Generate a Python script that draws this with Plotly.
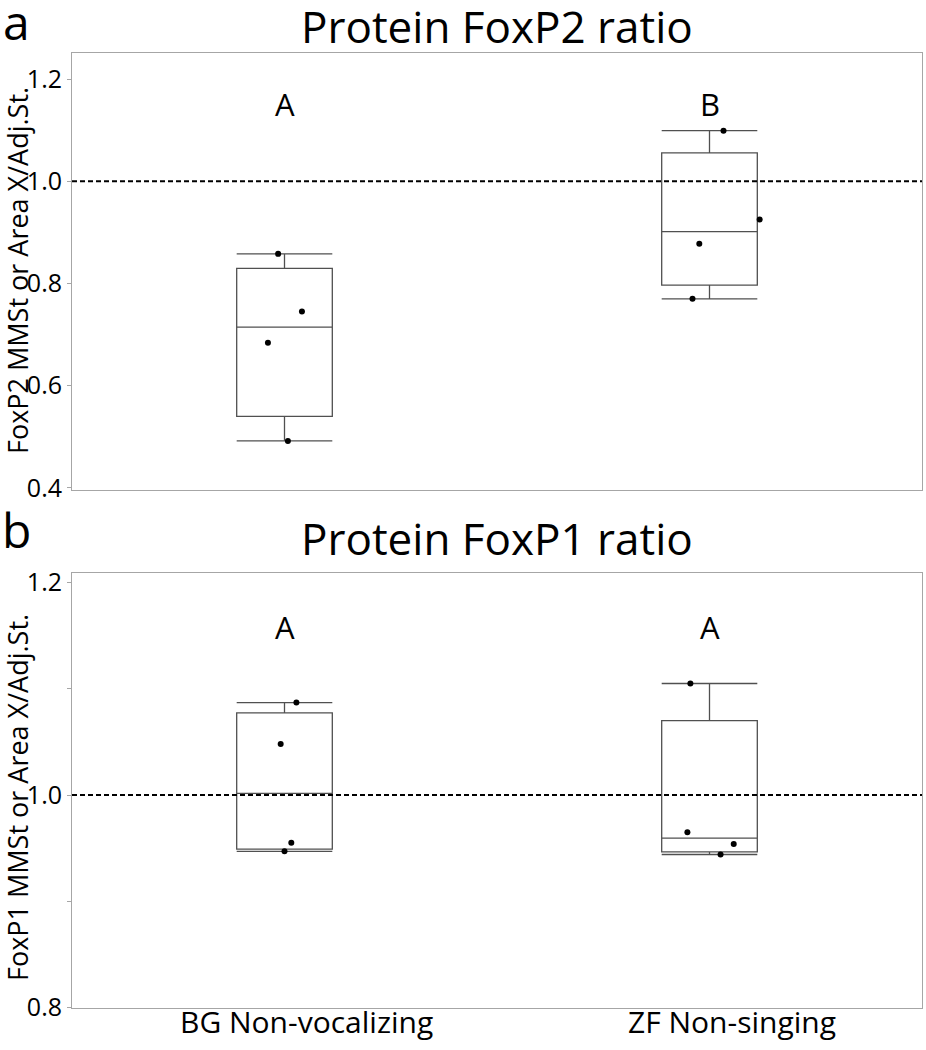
import numpy as np
import plotly.graph_objects as go

categories = ["BG Non-vocalizing", "ZF Non-singing"]

# Panel a: FoxP2 ratio (individual birds)
foxp2_bg = [0.858, 0.745, 0.684, 0.492]
foxp2_zf = [1.099, 0.925, 0.878, 0.770]
# Panel b: FoxP1 ratio
foxp1_bg = [1.087, 1.048, 0.955, 0.947]
foxp1_zf = [1.105, 0.965, 0.954, 0.944]

# horizontal jitter of the points (category units)
jit_a_bg = [-0.015, 0.041, -0.039, 0.008]
jit_a_zf = [0.033, 0.118, -0.024, -0.040]
jit_b_bg = [0.028, -0.009, 0.016, 0.0]
jit_b_zf = [-0.045, -0.052, 0.057, 0.026]

letters_a = ["A", "B"]
letters_b = ["A", "A"]

FONT = "Open Sans"
BOXLINE = "#505050"
FRAME = "#a6a6a6"

W, H = 926, 1050


def px_x(px):
    return px / W


def px_y(py):
    return 1 - py / H


fig = go.Figure()


def stats(v):
    v = np.asarray(v, dtype=float)
    return dict(
        q1=[float(np.percentile(v, 25, method="weibull"))],
        median=[float(np.median(v))],
        q3=[float(np.percentile(v, 75, method="weibull"))],
        lowerfence=[float(v.min())],
        upperfence=[float(v.max())],
    )


panels = [
    ("x", "y", [foxp2_bg, foxp2_zf], [jit_a_bg, jit_a_zf]),
    ("x2", "y2", [foxp1_bg, foxp1_zf], [jit_b_bg, jit_b_zf]),
]
for xa, ya, groups, jits in panels:
    for i, (vals, jit) in enumerate(zip(groups, jits)):
        fig.add_trace(go.Box(
            x=[i], **stats(vals), width=0.225, whiskerwidth=1,
            fillcolor="white", line=dict(color=BOXLINE, width=1.3),
            boxpoints=False, xaxis=xa, yaxis=ya, showlegend=False,
            hoverinfo="skip"))
        fig.add_trace(go.Scatter(
            x=[i + j for j in jit], y=vals, mode="markers",
            marker=dict(color="black", size=6), xaxis=xa, yaxis=ya,
            showlegend=False))

xdom = [px_x(72), px_x(922)]
common_x = dict(range=[-0.5, 1.5], showline=True, mirror=True, linecolor=FRAME,
                linewidth=1, showgrid=False, zeroline=False, ticks="",
                showticklabels=False, automargin=False)
common_y = dict(ticks="outside", ticklen=4, tickcolor=FRAME, showline=True,
                mirror=True, linecolor=FRAME, showgrid=False, zeroline=False,
                tickfont=dict(size=25, family=FONT), automargin=False)
fig.update_layout(
    width=W, height=H, plot_bgcolor="white", paper_bgcolor="white",
    margin=dict(l=0, r=0, t=0, b=0, autoexpand=False),
    font=dict(family=FONT, color="black"),
    xaxis=dict(domain=xdom, anchor="y", **common_x),
    yaxis=dict(domain=[px_y(490), px_y(53)], anchor="x", range=[0.396, 1.251],
               tickvals=[0.4, 0.6, 0.8, 1.0, 1.2],
               ticktext=["0.4", "0.6", "0.8", "1.0", "1.2"], **common_y),
    xaxis2=dict(domain=xdom, anchor="y2", tickvals=[0, 1], **common_x),
    yaxis2=dict(domain=[px_y(1008), px_y(573)], anchor="x2", range=[0.7995, 1.209],
                tickvals=[0.8, 0.9, 1.0, 1.1, 1.2],
                ticktext=["0.8", "", "1.0", "", "1.2"], **common_y),
)

for xr, yr in [("x", "y"), ("x2", "y2")]:
    fig.add_shape(type="line", xref=f"{xr} domain", yref=yr, x0=0, x1=1,
                  y0=1.0, y1=1.0, line=dict(color="black", width=2, dash="5px,3px"))

ann = []
for i, t in enumerate(letters_a):
    ann.append(dict(x=i, y=1.152, xref="x", yref="y", text=t, showarrow=False,
                    xanchor="center", yanchor="middle",
                    font=dict(size=31, family=FONT)))
for i, t in enumerate(letters_b):
    ann.append(dict(x=i, y=1.158, xref="x2", yref="y2", text=t, showarrow=False,
                    xanchor="center", yanchor="middle",
                    font=dict(size=31, family=FONT)))
# category labels under the lower panel
for i, c in enumerate(categories):
    ann.append(dict(x=i, y=px_y(1021), xref="x2", yref="paper", text=c,
                    showarrow=False, xanchor="center", yanchor="middle",
                    xshift=22, font=dict(size=30, family=FONT)))

for text, (px, py), size, angle in [
    ("Protein FoxP2 ratio", (497, 26), 44, 0),
    ("Protein FoxP1 ratio", (497, 538), 44, 0),
    ("a", (16, 22), 48, 0),
    ("b", (16, 529), 48, 0),
    ("FoxP2 MMSt or Area X/Adj.St.", (17, 271), 27, -90),
    ("FoxP1 MMSt or Area X/Adj.St.", (17, 798), 27, -90),
]:
    ann.append(dict(x=px_x(px), y=px_y(py), xref="paper", yref="paper", text=text,
                    showarrow=False, xanchor="center", yanchor="middle",
                    textangle=angle, font=dict(size=size, family=FONT)))
fig.update_layout(annotations=ann)

# remove the default 8px page margin so the 926x1050 figure fills the window
fig.write_html("out.html", config={"displayModeBar": False},
               post_script="document.body.style.margin='0';"
                           "document.body.style.overflow='hidden';")
